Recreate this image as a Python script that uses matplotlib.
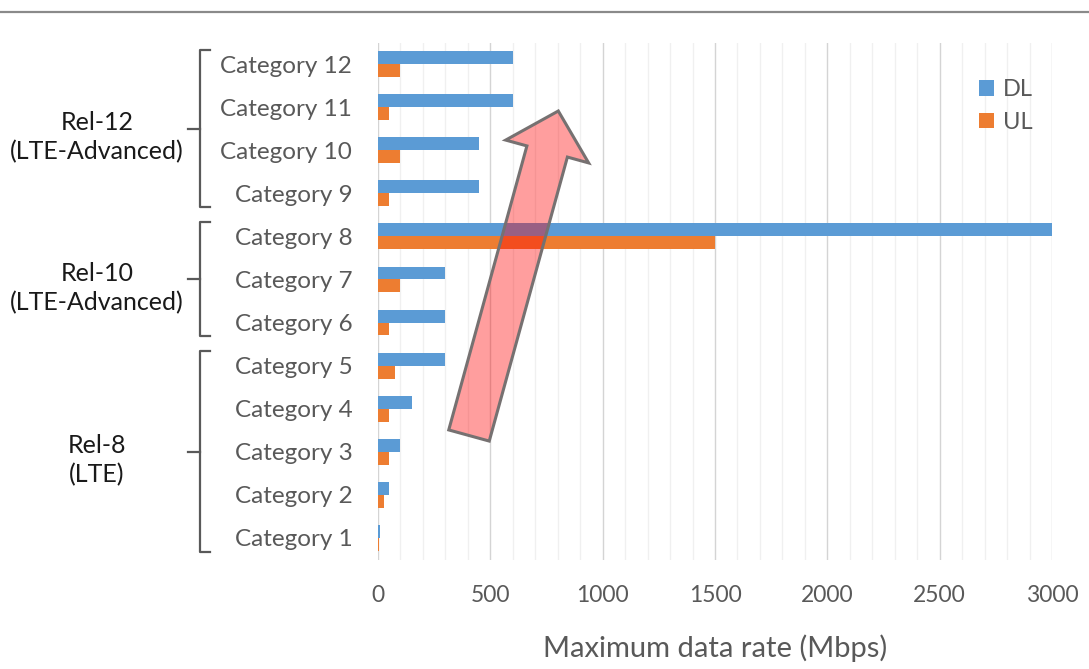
import matplotlib

matplotlib.use("Agg")
import matplotlib.patches as mpatches
import matplotlib.pyplot as plt
import numpy as np
from matplotlib.lines import Line2D
from matplotlib.transforms import blended_transform_factory

# LTE UE categories, peak rates in Mbps
categories = [f"Category {n}" for n in range(1, 13)]
dl_rates = [10, 50, 100, 150, 300, 300, 300, 3000, 450, 450, 600, 600]
ul_rates = [5, 25, 50, 50, 75, 50, 100, 1500, 50, 100, 50, 100]

# release groups: (label, first category index, last category index)
releases = [
    ("Rel-8\n(LTE)", 0, 4),
    ("Rel-10\n(LTE-Advanced)", 5, 7),
    ("Rel-12\n(LTE-Advanced)", 8, 11),
]

BLUE = "#5B9BD5"
ORANGE = "#ED7D31"
GREY_TEXT = "#595959"
FONT = "Lato"

W, H, DPI = 1089, 669, 100
fig = plt.figure(figsize=(W / DPI, H / DPI), dpi=DPI)
ax = fig.add_axes([378 / W, 1 - 559.5 / H, 674 / W, 517 / H])

pos = np.arange(len(categories))
bar_h = 0.3
ax.barh(pos + bar_h / 2, dl_rates, height=bar_h, color=BLUE, label="DL", zorder=3)
ax.barh(pos - bar_h / 2, ul_rates, height=bar_h, color=ORANGE, label="UL", zorder=3)

ax.set_xlim(0, 3000)
ax.set_ylim(-0.5, len(categories) - 0.5)
ax.set_xticks(np.arange(0, 3001, 500))
ax.set_xticks(np.arange(0, 3001, 100), minor=True)
ax.grid(axis="x", which="major", color="#D4D4D4", lw=1.0, zorder=0)
ax.grid(axis="x", which="minor", color="#F0F0F0", lw=1.0, zorder=0)
ax.set_axisbelow(True)
for side in ("top", "right", "bottom", "left"):
    ax.spines[side].set_visible(False)
ax.tick_params(which="both", length=0)
ax.tick_params(axis="x", pad=18, labelsize=16.5, labelcolor=GREY_TEXT)
ax.tick_params(axis="y", pad=18.5, labelsize=17.5, labelcolor=GREY_TEXT)
ax.set_yticks(pos)
ax.set_yticklabels(categories)
for lbl in ax.get_xticklabels() + ax.get_yticklabels():
    lbl.set_fontfamily(FONT)

ax.set_xlabel("Maximum data rate (Mbps)", fontsize=21, color=GREY_TEXT,
              family=FONT, labelpad=21)

leg = ax.legend(loc="upper left", bbox_to_anchor=(958 / W, 1 - 58 / H),
                bbox_transform=fig.transFigure, frameon=False,
                handlelength=0.62, handleheight=0.62, handletextpad=0.4,
                labelspacing=0.5, prop={"family": FONT, "size": 17})
for txt in leg.get_texts():
    txt.set_color(GREY_TEXT)

# release brackets on the left, x in inches, y in data units
trans = blended_transform_factory(fig.dpi_scale_trans, ax.transData)
bx, hook, nub = 200 / DPI, 10 / DPI, 12 / DPI
for label, lo, hi in releases:
    y0, y1 = lo - 0.32, hi + 0.33
    mid = (lo + hi) / 2
    ax.add_line(Line2D([bx + hook, bx, bx, bx + hook], [y0, y0, y1, y1],
                       transform=trans, color=GREY_TEXT, lw=1.6, clip_on=False))
    ax.add_line(Line2D([bx - nub, bx], [mid, mid], transform=trans,
                       color=GREY_TEXT, lw=1.6, clip_on=False))
    ax.text(97 / DPI, mid - 0.2, label, transform=trans, ha="center", va="center",
            fontsize=18, family=FONT, color="#1a1a1a", linespacing=1.3)

# translucent arrow across the bars (inches from the lower-left corner)
tail = np.array([469, H - 435.5]) / DPI
tip = np.array([558.3, H - 111]) / DPI
arrow = mpatches.FancyArrow(tail[0], tail[1], *(tip - tail), width=42 / DPI,
                            head_width=86 / DPI, head_length=42 / DPI,
                            length_includes_head=True,
                            transform=fig.dpi_scale_trans,
                            facecolor=(1, 0, 0, 0.38), edgecolor="#767171",
                            lw=2.2, zorder=10)
fig.patches.append(arrow)

# rule across the top of the figure
fig.add_artist(Line2D([0, 1], [1 - 12 / H, 1 - 12 / H], transform=fig.transFigure,
                      color="#8a8a8a", lw=1.6))

fig.savefig("out.png", dpi=DPI)
